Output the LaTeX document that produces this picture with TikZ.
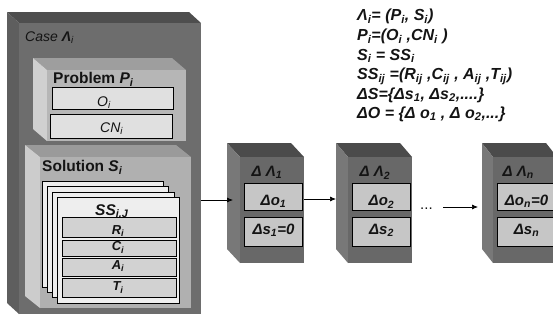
\documentclass[tikz,border=0pt]{standalone}
\usepackage{fontspec}
\setmainfont{Liberation Sans}
\usetikzlibrary{arrows.meta}
\newcommand\sbx[1]{\textsubscript{#1}}
% 3D box: front x1 y1 x2 y2, depth dx dy, colours front/top/left
\newcommand\tdbox[9]{%
  \fill[#8] ({#1-#5},{#2-#6}) -- ({#3-#5},{#2-#6}) -- (#3,#2) -- (#1,#2) -- cycle;
  \fill[#9] ({#1-#5},{#2-#6}) -- (#1,#2) -- (#1,#4) -- ({#1-#5},{#4-#6}) -- cycle;
  \fill[#7] (#1,#2) rectangle (#3,#4);
}
\definecolor{casefront}{HTML}{6D6D6D}
\definecolor{casetop}{HTML}{4E4E4E}
\definecolor{caseleft}{HTML}{5E5E5E}
\definecolor{probfront}{HTML}{B6B6B6}
\definecolor{probtop}{HTML}{9E9E9E}
\definecolor{probleft}{HTML}{D0D0D0}
\definecolor{solfront}{HTML}{B0B0B0}
\definecolor{soltop}{HTML}{9A9A9A}
\definecolor{solleft}{HTML}{CCCCCC}
\definecolor{dfront}{HTML}{686868}
\definecolor{dtop}{HTML}{4B4B4B}
\definecolor{dleft}{HTML}{787878}
\definecolor{inner}{HTML}{E0E0E0}
\definecolor{pagefill}{HTML}{EEEEEE}
\definecolor{rowfill}{HTML}{D2D2D2}
\definecolor{dinner}{HTML}{C6C6C6}
\tikzset{
  inbox/.style={draw=black, line width=0.8pt, fill=inner, inner sep=0pt},
  rowbox/.style={draw=black, line width=0.8pt, fill=rowfill, inner sep=0pt, minimum width=114pt},
  dbox/.style={draw=black, line width=0.8pt, fill=dinner, inner sep=0pt, minimum width=58pt},
  pagebox/.style={draw=black, line width=0.8pt, fill=pagefill},
  txt/.style={inner sep=0pt, text=black!92},
  formula/.style={txt, anchor=base west, font=\fontsize{16}{19}\selectfont\bfseries\itshape},
  rowtxt/.style={txt, anchor=base, font=\fontsize{13}{15}\selectfont\bfseries\itshape},
  dtxt/.style={txt, anchor=base, font=\fontsize{15}{18}\selectfont\bfseries\itshape},
  conn/.style={line width=0.7pt, -{Latex[length=6pt,width=5pt]}},
}
\begin{document}
\begin{tikzpicture}[x=1pt,y=-1pt]
\useasboundingbox (0,0) rectangle (553,325);
% Case box
\tdbox{19}{23}{201}{314}{12}{11}{casefront}{casetop}{caseleft}
\node[txt, anchor=base west, font=\fontsize{14}{17}\selectfont\itshape] (casetxt) at (25,41.7) {Case \textbf{Λ}\sbx{i}};
% Problem box
\tdbox{47}{70}{186}{141}{14}{12}{probfront}{probtop}{probleft}
\node[txt, anchor=base west, font=\fontsize{15.5}{18}\selectfont\bfseries] (probtxt) at (53,83.3) {Problem \textit{P\sbx{i}}};
\node[inbox, minimum width=121pt, minimum height=22pt] (obox) at (112.5,98) {};
\node[txt, anchor=base west, font=\fontsize{14}{17}\selectfont\itshape] (otxt) at (97,106) {O\sbx{i}};
\node[inbox, minimum width=122pt, minimum height=24pt] (cnbox) at (111,126) {};
\node[txt, anchor=base west, font=\fontsize{14}{17}\selectfont\itshape] (cntxt) at (100,132) {CN\sbx{i}};
% Solution box
\tdbox{40}{157}{191}{308}{15}{12}{solfront}{soltop}{solleft}
\node[txt, anchor=base west, font=\fontsize{15.5}{18}\selectfont\bfseries] (soltxt) at (42,171.7) {Solution \textit{S\sbx{i}}};
\draw[pagebox] (42,181) rectangle (163,287);
\draw[pagebox] (47,186) rectangle (168,292);
\draw[pagebox] (52,192) rectangle (174,297);
\draw[pagebox] (57,197) rectangle (179,303);
\node[txt, anchor=base west, font=\fontsize{15.5}{18}\selectfont\bfseries\itshape] (sstxt) at (95,215) {SS\sbx{i,J}};
\node[rowbox, minimum height=20pt] (rbox) at (119,227) {};
\node[rowtxt] at (118,234) {R\sbx{i}};
\node[rowbox, minimum height=16pt] (cbox) at (119,248) {};
\node[rowtxt] at (118,250.7) {C\sbx{i}};
\node[rowbox, minimum height=18pt] (abox) at (119,267) {};
\node[rowtxt] at (118,269) {A\sbx{i}};
\node[rowbox, minimum height=19pt] (tbox) at (119,287.5) {};
\node[rowtxt] at (118,290.7) {T\sbx{i}};
% Delta boxes
\tdbox{240}{157}{304}{263}{13}{14}{dfront}{dtop}{dleft}
\tdbox{348}{157}{412}{263}{12}{14}{dfront}{dtop}{dleft}
\tdbox{493}{157}{557}{263}{11}{14}{dfront}{dtop}{dleft}
\node[dtxt, anchor=base west] (d1t) at (251.5,176.7) {Δ Λ\sbx{1}};
\node[dtxt, anchor=base west] (d2t) at (359.5,176.7) {Δ Λ\sbx{2}};
\node[dtxt, anchor=base west] (dnt) at (502.5,176.7) {Δ Λ\sbx{n}};
\node[dbox, minimum height=27pt] (o1) at (273.5,196.5) {};
\node[dtxt] at (273.5,205.7) {Δo\sbx{1}};
\node[dbox, minimum height=29pt] (s1) at (273.5,231.5) {};
\node[dtxt] at (273.5,234) {Δs\sbx{1}=0};
\node[dbox, minimum height=27pt] (o2) at (381.5,196.5) {};
\node[dtxt] at (381.5,205.7) {Δo\sbx{2}};
\node[dbox, minimum height=29pt] (s2) at (381.5,231.5) {};
\node[dtxt] at (381.5,234) {Δs\sbx{2}};
\node[dbox, minimum height=27pt] (on) at (526.5,196.5) {};
\node[dtxt] at (526.5,205.5) {Δo\sbx{n}=0};
\node[dbox, minimum height=29pt] (sn) at (526.5,231.5) {};
\node[dtxt] at (526.5,234) {Δs\sbx{n}};
% connectors
\coordinate (a1s) at (201,200);
\coordinate (a1e) at (233,200);
\coordinate (a2s) at (304,199);
\coordinate (a2e) at (336,199);
\coordinate (a3s) at (443,207);
\coordinate (a3e) at (478,207);
\draw[conn] (a1s) -- (a1e);
\draw[conn] (a2s) -- (a2e);
\draw[conn] (a3s) -- (a3e);
\node[txt, anchor=base west, font=\fontsize{15}{18}\selectfont] (dots) at (420,209.5) {...};
% formulas
\node[formula] (f1) at (357,20.7) {Λ\sbx{i}= (P\sbx{i}, S\sbx{i})};
\node[formula] (f2) at (357,40.7) {P\sbx{i}=(O\sbx{i} ,CN\sbx{i} )};
\node[formula] (f3) at (357,60) {S\sbx{i} = SS\sbx{i}};
\node[formula] (f4) at (357,79.5) {SS\sbx{ij} =(R\sbx{ij} ,C\sbx{ij} , A\sbx{ij} ,T\sbx{ij})};
\node[formula] (f5) at (357,99) {ΔS=\{Δs\sbx{1}, Δs\sbx{2},....\}};
\node[formula] (f6) at (357,118.3) {ΔO = \{Δ o\sbx{1} , Δ o\sbx{2},...\}};
\end{tikzpicture}
\end{document}
